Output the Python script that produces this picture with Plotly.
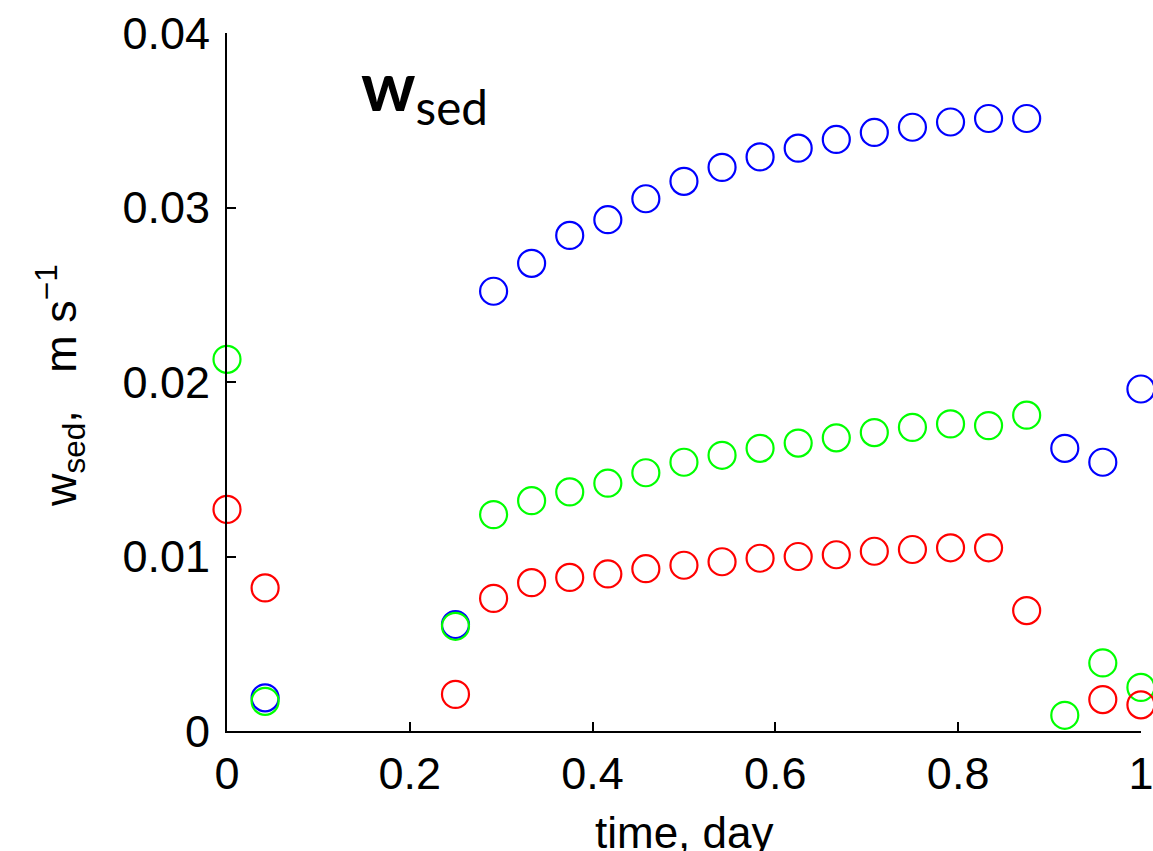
import plotly.graph_objects as go

time_day = [0.0, 0.0417, 0.25, 0.2917, 0.3333, 0.375, 0.4167, 0.4583, 0.5, 0.5417,
            0.5833, 0.625, 0.6667, 0.7083, 0.75, 0.7917, 0.8333, 0.875, 0.9167, 0.9583, 1.0]

w_blue = [None, 0.0019, 0.0061, 0.0252, 0.0268, 0.0284, 0.0293, 0.0305, 0.0315, 0.0323,
          0.0329, 0.0334, 0.0339, 0.0343, 0.0346, 0.0349, 0.0351, 0.0351, 0.0162, 0.0154, 0.0196]
w_green = [0.0213, 0.0017, 0.0060, 0.0124, 0.0132, 0.0137, 0.0142, 0.0148, 0.0154, 0.0158,
           0.0162, 0.0165, 0.0168, 0.0171, 0.0174, 0.0176, 0.0175, 0.0181, 0.0009, 0.0039, 0.0025]
w_red = [0.0127, 0.0082, 0.0021, 0.0076, 0.0085, 0.0088, 0.0090, 0.0093, 0.0095, 0.0097,
         0.0099, 0.0100, 0.0101, 0.0103, 0.0104, 0.0105, 0.0105, 0.0069, None, 0.0018, 0.0015]

x_ticks = [0, 0.2, 0.4, 0.6, 0.8, 1]
x_tick_labels = ["0", "0.2", "0.4", "0.6", "0.8", "1"]
y_ticks = [0, 0.01, 0.02, 0.03, 0.04]
y_tick_labels = ["0", "0.01", "0.02", "0.03", "0.04"]

fig = go.Figure()
for vals, col in [(w_blue, "#0000FF"), (w_green, "#00FF00"), (w_red, "#FF0000")]:
    fig.add_trace(go.Scatter(
        x=time_day, y=vals, mode="markers", cliponaxis=False, showlegend=False,
        marker=dict(symbol="circle-open", size=27, color=col, line=dict(width=2.2, color=col)),
    ))

font = "Liberation Sans, Arial, sans-serif"
fig.update_layout(
    width=1153, height=851,
    margin=dict(l=227, r=12, t=33, b=120, autoexpand=False),
    paper_bgcolor="white", plot_bgcolor="white",
    font=dict(family=font, size=44, color="black"),
    xaxis=dict(range=[0, 1.0001], tickvals=x_ticks, ticktext=x_tick_labels,
               ticks="inside", ticklen=9, tickwidth=2, tickcolor="black",
               showline=True, linewidth=2, linecolor="black", showgrid=False,
               zeroline=False, ticklabelstandoff=2, automargin=False,
               ticklabeloverflow="allow", tickfont=dict(size=45)),
    yaxis=dict(range=[0, 0.04], tickvals=y_ticks, ticktext=y_tick_labels,
               ticks="inside", ticklen=9, tickwidth=2, tickcolor="black",
               showline=True, linewidth=2, linecolor="black", showgrid=False,
               zeroline=False, ticklabelstandoff=6, automargin=False,
               ticklabeloverflow="allow", tickfont=dict(size=45)),
)

fig.add_annotation(
    xref="paper", yref="paper", x=(60 - 227) / 914, y=(731 - 386) / 698,
    text="w<sub>sed</sub>,\u00a0\u00a0\u00a0m s<sup>\u22121</sup>",
    textangle=-90, showarrow=False, xanchor="center", yanchor="middle",
    font=dict(family=font, size=45, color="black"),
)
fig.add_annotation(
    xref="paper", yref="paper", x=(684 - 227) / 914, y=(731 - 832) / 698,
    text="time, day", showarrow=False, xanchor="center", yanchor="middle",
    font=dict(family=font, size=44, color="black"),
)
fig.add_annotation(
    xref="paper", yref="paper", x=(359 - 227) / 914, y=(731 - 90) / 698,
    text="<b>w</b><sub>sed</sub>", showarrow=False, xanchor="left", yanchor="middle",
    font=dict(family="Lato, sans-serif", size=68, color="black"),
)

fig.write_html("out.html")
